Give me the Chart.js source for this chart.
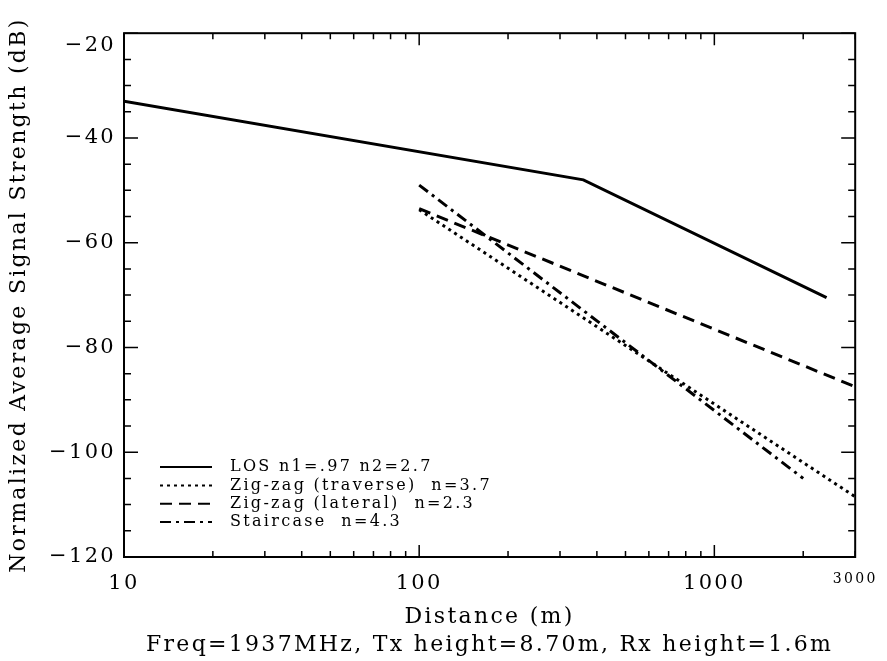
<!DOCTYPE html>
<html>
<head>
<meta charset="utf-8">
<script src="https://cdn.jsdelivr.net/npm/chart.js@4.4.1/dist/chart.umd.min.js"></script>
<style>
  html, body { margin: 0; padding: 0; background: #fff; }
  #wrap { width: 887px; height: 661px; position: relative; }
</style>
</head>
<body>
<div id="wrap"><canvas id="chart"></canvas></div>
<script>
// path loss curves, distance in metres, level in dB
const losDist = [10, 360, 2400];
const losDb = [-33, -48, -70.5];
const traverseDist = [100, 3000];
const traverseDb = [-53.7, -108.5];
const lateralDist = [100, 3000];
const lateralDb = [-53.5, -87.5];
const stairDist = [100, 2000];
const stairDb = [-49, -105];

const seriesLabels = [
  "LOS n1=.97 n2=2.7",
  "Zig-zag (traverse)  n=3.7",
  "Zig-zag (lateral)  n=2.3",
  "Staircase  n=4.3",
];

const xMajor = [10, 100, 1000];
const xTicks = [10, 20, 30, 40, 50, 60, 70, 80, 90,
  100, 200, 300, 400, 500, 600, 700, 800, 900,
  1000, 2000, 3000];

const FONT = "'DejaVu Serif', serif";

function pts(xs, ys) {
  return xs.map((x, i) => ({ x: x, y: ys[i] }));
}

function line(label, xs, ys, dash) {
  return {
    label: label,
    data: pts(xs, ys),
    borderColor: "#000",
    borderWidth: 3,
    borderDash: dash,
    borderCapStyle: "butt",
    pointRadius: 0,
    fill: false,
    tension: 0,
  };
}

// wide typewriter-like spacing for every text on the canvas
const spacing = {
  id: "spacing",
  beforeDraw(chart) {
    chart.ctx.letterSpacing = "2.3px";
  },
};

// frame with inward ticks on all four sides
const frame = {
  id: "frame",
  afterDatasetsDraw(chart) {
    const { ctx, chartArea: a, scales } = chart;
    ctx.save();
    ctx.strokeStyle = "#000";
    ctx.lineWidth = 2;
    ctx.strokeRect(a.left, a.top, a.right - a.left, a.bottom - a.top);
    ctx.lineWidth = 1.5;
    ctx.beginPath();
    scales.y.ticks.forEach(t => {
      const y = scales.y.getPixelForValue(t.value);
      const len = t.value % 20 === 0 ? 14 : 7;
      ctx.moveTo(a.left, y); ctx.lineTo(a.left + len, y);
      ctx.moveTo(a.right, y); ctx.lineTo(a.right - len, y);
    });
    scales.x.ticks.forEach(t => {
      const x = scales.x.getPixelForValue(t.value);
      const len = xMajor.includes(t.value) ? 12 : 6;
      ctx.moveTo(x, a.bottom); ctx.lineTo(x, a.bottom - len);
      ctx.moveTo(x, a.top); ctx.lineTo(x, a.top + len);
    });
    ctx.stroke();
    ctx.restore();
  },
};

// legend in the lower left of the plot
const keyBox = {
  id: "keyBox",
  afterDatasetsDraw(chart) {
    const { ctx, chartArea: a } = chart;
    const rowH = 18.3;
    const n = chart.data.datasets.length;
    ctx.save();
    ctx.font = "16px " + FONT;
    ctx.fillStyle = "#000";
    ctx.textBaseline = "middle";
    chart.data.datasets.forEach((ds, i) => {
      const y = a.bottom - 35 - (n - 1 - i) * rowH;
      ctx.strokeStyle = "#000";
      ctx.lineWidth = 2;
      ctx.setLineDash(ds.borderDash || []);
      ctx.beginPath();
      ctx.moveTo(a.left + 36, y);
      ctx.lineTo(a.left + 88, y);
      ctx.stroke();
      ctx.setLineDash([]);
      ctx.fillText(ds.label, a.left + 106, y);
    });
    ctx.restore();
  },
};

new Chart(document.getElementById("chart"), {
  type: "line",
  data: {
    datasets: [
      line(seriesLabels[0], losDist, losDb, []),
      line(seriesLabels[1], traverseDist, traverseDb, [3, 4]),
      line(seriesLabels[2], lateralDist, lateralDb, [12, 7]),
      line(seriesLabels[3], stairDist, stairDb, [11, 5, 3, 5]),
    ],
  },
  options: {
    responsive: true,
    maintainAspectRatio: false,
    animation: false,
    layout: { padding: { left: 0, top: 33, right: 30, bottom: 0 } },
    plugins: {
      legend: { display: false },
      tooltip: { enabled: false },
    },
    scales: {
      x: {
        type: "logarithmic",
        min: 10,
        max: 3000,
        afterBuildTicks(s) {
          s.ticks = xTicks.map(v => ({ value: v }));
        },
        afterFit(s) { s.height = 104; },
        grid: { display: false, drawTicks: false },
        border: { display: false },
        ticks: {
          autoSkip: false,
          maxRotation: 0,
          padding: 14,
          color: "#000",
          font: c => ({ family: FONT, size: c.tick && c.tick.value === 3000 ? 14 : 21 }),
          callback: v => (xMajor.includes(v) || v === 3000 ? String(v) : ""),
        },
        title: {
          display: true,
          text: ["Distance (m)", "Freq=1937MHz, Tx height=8.70m, Rx height=1.6m"],
          color: "#000",
          font: { family: FONT, size: 22, lineHeight: "28px" },
          padding: { top: 0, bottom: 2 },
        },
      },
      y: {
        min: -120,
        max: -20,
        afterFit(s) { s.width = 124; },
        grid: { display: false, drawTicks: false },
        border: { display: false },
        ticks: {
          stepSize: 5,
          autoSkip: false,
          padding: 8,
          color: "#000",
          font: { family: FONT, size: 21 },
          callback: v => {
            if (v % 20 !== 0) return "";
            const txt = "\u2212" + Math.abs(v);
            // top label sits just below the frame corner
            return v === -20 ? ["", txt] : txt;
          },
        },
        title: {
          display: true,
          text: "Normalized Average Signal Strength (dB)",
          color: "#000",
          font: { family: FONT, size: 22 },
          padding: { top: 6, bottom: 0 },
        },
      },
    },
  },
  plugins: [spacing, frame, keyBox],
});
</script>
</body>
</html>
